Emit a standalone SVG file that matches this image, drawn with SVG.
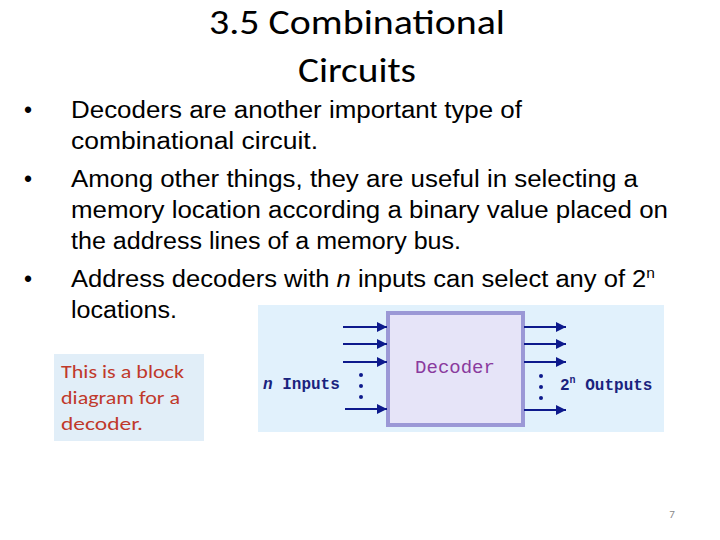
<svg xmlns="http://www.w3.org/2000/svg" width="720" height="540" viewBox="0 0 720 540">
<style>
.b{font-family:"Liberation Sans",Arial,sans-serif;font-size:23px;fill:#000}
.m{font-family:"Liberation Mono","Courier New",monospace;font-weight:bold;font-size:16px;fill:#1a237e}
.a{stroke:#0d1a8c;stroke-width:2;marker-end:url(#ar)}
.d{fill:#0d1a8c}
</style>
<defs><marker id="ar" viewBox="0 0 10 10" refX="10" refY="5" markerWidth="5" markerHeight="5" orient="auto" markerUnits="strokeWidth"><path d="M0,0L10,5L0,10z" fill="#0d1a8c"/></marker></defs>
<rect width="720" height="540" fill="#fff"/>
<g id="title" font-family="Calibri,Carlito,'Open Sans',sans-serif" font-size="34" text-anchor="middle">
<text x="357" y="34" textLength="296" lengthAdjust="spacingAndGlyphs">3.5 Combinational</text><text x="357" y="82" textLength="118" lengthAdjust="spacingAndGlyphs">Circuits</text></g>
<g id="bullets" class="b">
<text x="24" y="118">•</text><text x="71" y="118" textLength="451" lengthAdjust="spacingAndGlyphs">Decoders are another important type of</text>
<text x="71" y="149" textLength="247" lengthAdjust="spacingAndGlyphs">combinational circuit.</text>
<text x="24" y="187">•</text><text x="71" y="187" textLength="567" lengthAdjust="spacingAndGlyphs">Among other things, they are useful in selecting a</text>
<text x="71" y="218" textLength="597" lengthAdjust="spacingAndGlyphs">memory location according a binary value placed on</text>
<text x="71" y="249" textLength="390" lengthAdjust="spacingAndGlyphs">the address lines of a memory bus.</text>
<text x="24" y="287">•</text><text x="71" y="287" textLength="584" lengthAdjust="spacingAndGlyphs">Address decoders with <tspan font-style="italic">n</tspan> inputs can select any of 2<tspan font-size="14" dy="-9">n</tspan></text>
<text x="71" y="318" textLength="106" lengthAdjust="spacingAndGlyphs">locations.</text>
</g>
<g id="callout">
<rect x="54" y="354" width="150" height="87" fill="#e1eef8"/>
<g font-family="Calibri,Carlito,'Open Sans',sans-serif" font-size="19" fill="#c0392b">
<text x="61" y="378" textLength="123" lengthAdjust="spacingAndGlyphs">This is a block</text><text x="61" y="404" textLength="119" lengthAdjust="spacingAndGlyphs">diagram for a</text><text x="61" y="430" textLength="82" lengthAdjust="spacingAndGlyphs">decoder.</text></g>
</g>
<g id="figure">
<rect x="258" y="305" width="406" height="127" fill="#e1f1fc"/>
<g id="decoder"><rect x="388" y="313" width="135" height="112" fill="#e6e4f8" stroke="#9b98d6" stroke-width="4"/>
<text x="455" y="373" text-anchor="middle" font-family="Liberation Mono,monospace" font-size="19" fill="#8a3a9e">Decoder</text></g>
<text x="263" y="389" class="m"><tspan font-style="italic">n</tspan> Inputs</text>
<text x="560" y="390" class="m">2<tspan font-size="10" dy="-7">n</tspan><tspan dy="7"> Outputs</tspan></text>
<g id="connectors">
<line class="a" x1="343" y1="327" x2="387" y2="327"/><line class="a" x1="343" y1="344" x2="387" y2="344"/>
<line class="a" x1="343" y1="362" x2="387" y2="362"/><line class="a" x1="345" y1="409" x2="387" y2="409"/>
<line class="a" x1="524" y1="327" x2="566" y2="327"/><line class="a" x1="524" y1="344" x2="566" y2="344"/>
<line class="a" x1="524" y1="362" x2="566" y2="362"/><line class="a" x1="524" y1="410" x2="566" y2="410"/>
</g>
<circle class="d" cx="361" cy="375" r="2"/><circle class="d" cx="361" cy="386" r="2"/><circle class="d" cx="361" cy="397" r="2"/>
<circle class="d" cx="541" cy="376" r="2"/><circle class="d" cx="541" cy="387" r="2"/><circle class="d" cx="541" cy="398" r="2"/>
</g>
<text x="672" y="518" font-family="Calibri,Carlito,sans-serif" font-size="11" fill="#888" text-anchor="middle">7</text>
</svg>
